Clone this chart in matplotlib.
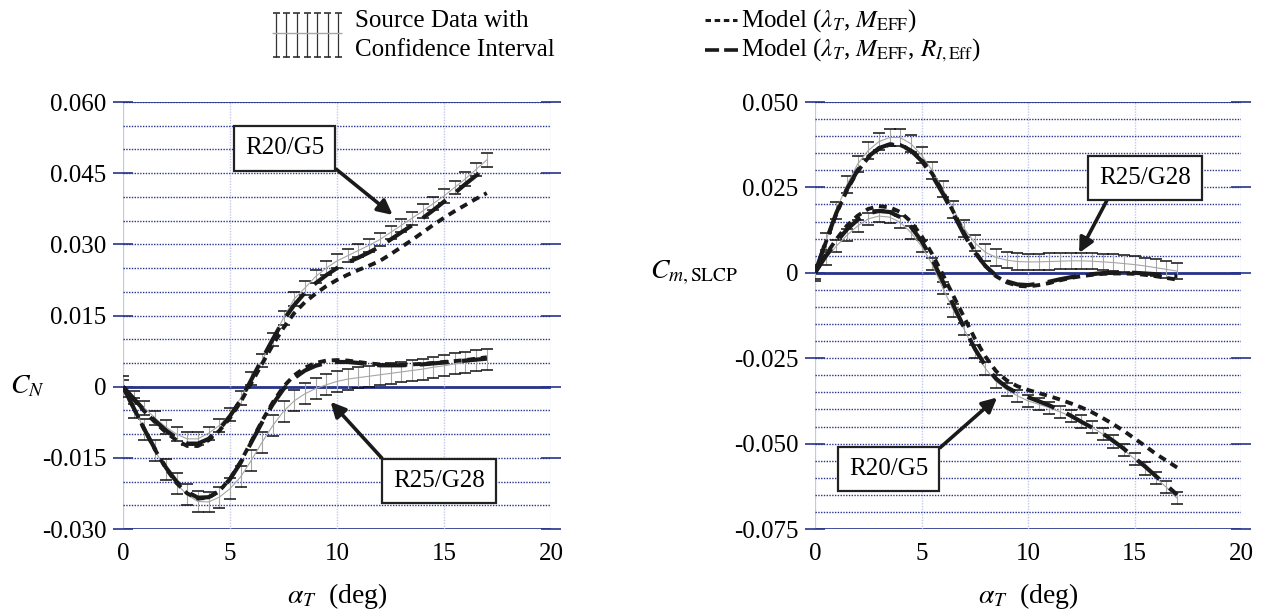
import numpy as np
import matplotlib
matplotlib.use('Agg')
import matplotlib.pyplot as plt
from matplotlib.ticker import FixedLocator, FixedFormatter

plt.rcParams['font.family'] = ['Liberation Serif', 'DejaVu Serif']
plt.rcParams['mathtext.fontset'] = 'stix'
plt.rcParams['font.size'] = 18

# ---------------- data ----------------
alpha = np.arange(0, 17.01, 0.5)

# C_N, R20/G5
cn_r20_src = [0, -0.0023, -0.0045, -0.0066, -0.0085, -0.0100, -0.0110, -0.0110, -0.0098, -0.0082,
              -0.0058, -0.0024, 0.0017, 0.0055, 0.0100, 0.0145, 0.0185, 0.0208, 0.0232, 0.0250,
              0.0265, 0.0276, 0.0287, 0.0298, 0.0310, 0.0325, 0.0340, 0.0355, 0.0370, 0.0386,
              0.0402, 0.0420, 0.0438, 0.0458, 0.0478]
cn_r20_m1 = [0, -0.0027, -0.0052, -0.0075, -0.0096, -0.0113, -0.0125, -0.0125, -0.0113, -0.0093,
             -0.0066, -0.0032, 0.0008, 0.0048, 0.0088, 0.0124, 0.0155, 0.0178, 0.0196, 0.0212,
             0.0225, 0.0236, 0.0246, 0.0255, 0.0265, 0.0279, 0.0294, 0.0309, 0.0325, 0.0341,
             0.0356, 0.0370, 0.0383, 0.0396, 0.0408]
cn_r20_m2 = [0, -0.0025, -0.0050, -0.0072, -0.0092, -0.0108, -0.0120, -0.0120, -0.0110, -0.0090,
             -0.0062, -0.0028, 0.0015, 0.0058, 0.0100, 0.0140, 0.0172, 0.0198, 0.0218, 0.0235,
             0.0250, 0.0262, 0.0272, 0.0283, 0.0295, 0.0310, 0.0325, 0.0340, 0.0355, 0.0372,
             0.0390, 0.0408, 0.0427, 0.0445, 0.0462]
# C_N, R25/G28
cn_r25_src = [0, -0.0045, -0.0090, -0.0135, -0.0175, -0.0205, -0.0228, -0.0242, -0.0243, -0.0233,
              -0.0215, -0.0190, -0.0155, -0.0117, -0.0082, -0.0052, -0.0030, -0.0015, -0.0004, 0.0004,
              0.0011, 0.0016, 0.0019, 0.0022, 0.0025, 0.0028, 0.0031, 0.0034, 0.0037, 0.0041,
              0.0044, 0.0048, 0.0051, 0.0055, 0.0058]
cn_r25_m1 = [0, -0.0045, -0.0090, -0.0133, -0.0172, -0.0203, -0.0225, -0.0236, -0.0234, -0.0220,
             -0.0194, -0.0158, -0.0115, -0.0072, -0.0033, 0.0000, 0.0024, 0.0040, 0.0050, 0.0055,
             0.0056, 0.0055, 0.0052, 0.0049, 0.0047, 0.0046, 0.0046, 0.0047, 0.0048, 0.0050,
             0.0052, 0.0054, 0.0056, 0.0059, 0.0062]
cn_r25_m2 = [0, -0.0045, -0.0090, -0.0132, -0.0170, -0.0200, -0.0222, -0.0234, -0.0233, -0.0220,
             -0.0195, -0.0160, -0.0117, -0.0075, -0.0037, -0.0005, 0.0018, 0.0034, 0.0044, 0.0050,
             0.0052, 0.0052, 0.0050, 0.0047, 0.0045, 0.0045, 0.0045, 0.0046, 0.0047, 0.0049,
             0.0051, 0.0053, 0.0055, 0.0057, 0.0059]

# C_m,SLCP, R25/G28
cm_r25_src = [0, 0.0092, 0.0182, 0.0258, 0.0318, 0.0358, 0.0384, 0.0396, 0.0396, 0.0378,
              0.0345, 0.0300, 0.0245, 0.0185, 0.0130, 0.0088, 0.0060, 0.0045, 0.0037, 0.0033,
              0.0032, 0.0032, 0.0033, 0.0034, 0.0035, 0.0035, 0.0034, 0.0032, 0.0030, 0.0027,
              0.0024, 0.0020, 0.0015, 0.0010, 0.0005]
cm_r25_m1 = [0, 0.0088, 0.0172, 0.0242, 0.0297, 0.0337, 0.0363, 0.0375, 0.0374, 0.0360,
             0.0332, 0.0290, 0.0238, 0.0178, 0.0117, 0.0063, 0.0020, -0.0010, -0.0028, -0.0038,
             -0.0040, -0.0036, -0.0030, -0.0022, -0.0015, -0.0010, -0.0006, -0.0003, -0.0002, -0.0002,
             -0.0003, -0.0006, -0.0010, -0.0015, -0.0020]
cm_r25_m2 = [0, 0.0090, 0.0175, 0.0245, 0.0300, 0.0340, 0.0365, 0.0376, 0.0374, 0.0358,
             0.0328, 0.0285, 0.0232, 0.0172, 0.0112, 0.0060, 0.0020, -0.0008, -0.0025, -0.0034,
             -0.0036, -0.0032, -0.0026, -0.0019, -0.0013, -0.0008, -0.0004, -0.0001, 0.0000, 0.0000,
             0.0000, -0.0002, -0.0004, -0.0007, -0.0010]
# C_m,SLCP, R20/G5
cm_r20_src = [0, 0.0042, 0.0078, 0.0110, 0.0137, 0.0158, 0.0166, 0.0163, 0.0148, 0.0118,
              0.0078, 0.0025, -0.0045, -0.0110, -0.0165, -0.0230, -0.0280, -0.0318, -0.0342, -0.0360,
              -0.0375, -0.0385, -0.0395, -0.0407, -0.0420, -0.0435, -0.0452, -0.0472, -0.0494, -0.0518,
              -0.0545, -0.0573, -0.0600, -0.0628, -0.0660]
cm_r20_m1 = [0, 0.0052, 0.0098, 0.0138, 0.0167, 0.0187, 0.0195, 0.0192, 0.0178, 0.0150,
             0.0108, 0.0055, -0.0005, -0.0068, -0.0130, -0.0192, -0.0245, -0.0288, -0.0315, -0.0332,
             -0.0343, -0.0352, -0.0361, -0.0371, -0.0382, -0.0394, -0.0408, -0.0425, -0.0443, -0.0463,
             -0.0485, -0.0507, -0.0530, -0.0550, -0.0570]
cm_r20_m2 = [0, 0.0048, 0.0090, 0.0127, 0.0155, 0.0174, 0.0181, 0.0178, 0.0163, 0.0135,
             0.0093, 0.0040, -0.0025, -0.0095, -0.0160, -0.0222, -0.0272, -0.0310, -0.0335, -0.0352,
             -0.0364, -0.0376, -0.0388, -0.0402, -0.0418, -0.0436, -0.0453, -0.0470, -0.0492, -0.0515,
             -0.0542, -0.0567, -0.0595, -0.0622, -0.0650]

# confidence half-widths
ci_cn_r20, ci_cn_r25 = 0.0014, 0.0022
ci_cm_r25, ci_cm_r20 = 0.0024, 0.0018

cn_ticks = [0.060, 0.045, 0.030, 0.015, 0, -0.015, -0.030]
cn_labels = ['0.060', '0.045', '0.030', '0.015', '0', '-0.015', '-0.030']
cm_ticks = [0.050, 0.025, 0, -0.025, -0.050, -0.075]
cm_labels = ['0.050', '0.025', '0', '-0.025', '-0.050', '-0.075']
x_ticks = [0, 5, 10, 15, 20]

NAVY = '#27348b'
LAV = '#c3c7ec'
GREY = '#a6a6a6'
SHORT = (0, (2.0, 1.5))
LONG = (0, (7.0, 3.2))

fig = plt.figure(figsize=(12.65, 6.12), dpi=100)
ax1 = fig.add_axes([123/1265, 83/612, 428/1265, 427/612])
ax2 = fig.add_axes([815/1265, 83/612, 426/1265, 427/612])


def style_axes(ax, ylo, yhi, major, labels):
    for s in ax.spines.values():
        s.set_visible(False)
    ax.set_xlim(0, 20)
    ax.set_ylim(ylo, yhi)
    ax.set_xticks(x_ticks)
    ax.yaxis.set_major_locator(FixedLocator(major))
    ax.yaxis.set_major_formatter(FixedFormatter(labels))
    ax.set_yticks(np.arange(ylo, yhi + 1e-9, 0.005), minor=True)
    ax.tick_params(axis='x', length=0, pad=10, labelsize=18)
    ax.tick_params(axis='y', which='major', direction='inout', length=14, width=1.2,
                   color=NAVY, labelsize=18, pad=5, right=True)
    ax.tick_params(axis='y', which='minor', length=0)
    ax.grid(axis='y', which='both', color=NAVY, linestyle=(0, (1, 1)), linewidth=1.0)
    ax.grid(axis='x', color=LAV, linestyle=(0, (1, 1)), linewidth=1.0)
    ax.axvline(0, color=LAV, linewidth=1.5, zorder=0.5)
    ax.axhline(yhi, color=NAVY, linewidth=1.2, zorder=0.5)
    ax.axhline(ylo, color=NAVY, linewidth=1.2, zorder=0.5)
    ax.axhline(0, color=NAVY, linewidth=2.0, zorder=0.5)
    ax.set_axisbelow(True)


def source(ax, y, ci):
    _, caps, _ = ax.errorbar(alpha, y, yerr=ci, fmt='-', color=GREY, lw=0.8,
                             ecolor=GREY, elinewidth=0.8, capsize=4.5, capthick=1.1, zorder=2)
    for c in caps:
        c.set_markeredgecolor('#111111')
        c.set_markerfacecolor('#111111')


def models(ax, m1, m2):
    ax.plot(alpha, m1, color='#1a1a1a', lw=2.8, linestyle=SHORT, zorder=3)
    ax.plot(alpha, m2, color='#1a1a1a', lw=3.0, linestyle=LONG, zorder=3)


style_axes(ax1, -0.030, 0.060, cn_ticks, cn_labels)
style_axes(ax2, -0.075, 0.050, cm_ticks, cm_labels)

source(ax1, cn_r20_src, ci_cn_r20)
source(ax1, cn_r25_src, ci_cn_r25)
models(ax1, cn_r20_m1, cn_r20_m2)
models(ax1, cn_r25_m1, cn_r25_m2)

source(ax2, cm_r25_src, ci_cm_r25)
source(ax2, cm_r20_src, ci_cm_r20)
models(ax2, cm_r25_m1, cm_r25_m2)
models(ax2, cm_r20_m1, cm_r20_m2)

box = dict(boxstyle='square,pad=0.45', fc='white', ec='#222222', lw=1.6)
arr = dict(arrowstyle='-|>', lw=2.6, color='#1a1a1a', mutation_scale=22, shrinkA=0, shrinkB=0)

ax1.annotate('R20/G5', xy=(12.6, 0.0362), xytext=(7.55, 0.0502), ha='center', va='center',
             bbox=box, arrowprops=dict(arr, relpos=(1, 0)), zorder=5)
ax1.annotate('R25/G28', xy=(9.7, -0.0032), xytext=(14.75, -0.0199), ha='center', va='center',
             bbox=box, arrowprops=dict(arr, relpos=(0, 1)), zorder=5)
ax2.annotate('R25/G28', xy=(12.4, 0.0058), xytext=(15.5, 0.0278), ha='center', va='center',
             bbox=box, arrowprops=dict(arr, relpos=(0.15, 0)), zorder=5)
ax2.annotate('R20/G5', xy=(8.55, -0.0365), xytext=(3.45, -0.0575), ha='center', va='center',
             bbox=box, arrowprops=dict(arr, relpos=(1, 1)), zorder=5)

# axis labels
ax1.text(-0.264, 0, r'$C_N$', transform=ax1.get_yaxis_transform(), ha='left', va='center', fontsize=20)
ax2.text(-0.387, 0, r'$C_{m,\mathrm{SLCP}}$', transform=ax2.get_yaxis_transform(),
         ha='left', va='center', fontsize=20)
for ax in (ax1, ax2):
    ax.text(0.5, -0.158, r'$\alpha_T$  (deg)', transform=ax.transAxes, ha='center', va='center',
            fontsize=20)

# legend drawn in pixel space
lg = fig.add_axes([0, 0, 1, 1])
lg.set_xlim(0, 1265)
lg.set_ylim(612, 0)
lg.axis('off')
lg.patch.set_alpha(0)
xs = np.linspace(276, 338, 7)
lg.vlines(xs, 13, 57, color='#333333', lw=0.9)
lg.hlines([13] * 7, xs - 3.5, xs + 3.5, color='#222222', lw=1.1)
lg.hlines([57] * 7, xs - 3.5, xs + 3.5, color='#222222', lw=1.1)
lg.hlines(33, 272, 342, color=GREY, lw=1.0)
lg.text(355, 27, 'Source Data with', ha='left', va='baseline', fontsize=18)
lg.text(355, 56, 'Confidence Interval', ha='left', va='baseline', fontsize=18)
lg.plot([705, 737], [20, 20], color='#1a1a1a', lw=2.2, linestyle=(0, (1.8, 1.2)))
lg.plot([705, 738], [50, 50], color='#1a1a1a', lw=2.6, linestyle=(0, (3.9, 1.4)))
lg.text(741, 27, r'Model ($\lambda_T$, $M_{\mathrm{EFF}}$)', ha='left', va='baseline', fontsize=18)
lg.text(741, 56, r'Model ($\lambda_T$, $M_{\mathrm{EFF}}$, $R_{I,\mathrm{Eff}}$)', ha='left',
        va='baseline', fontsize=18)

fig.savefig('out.png', dpi=100)
